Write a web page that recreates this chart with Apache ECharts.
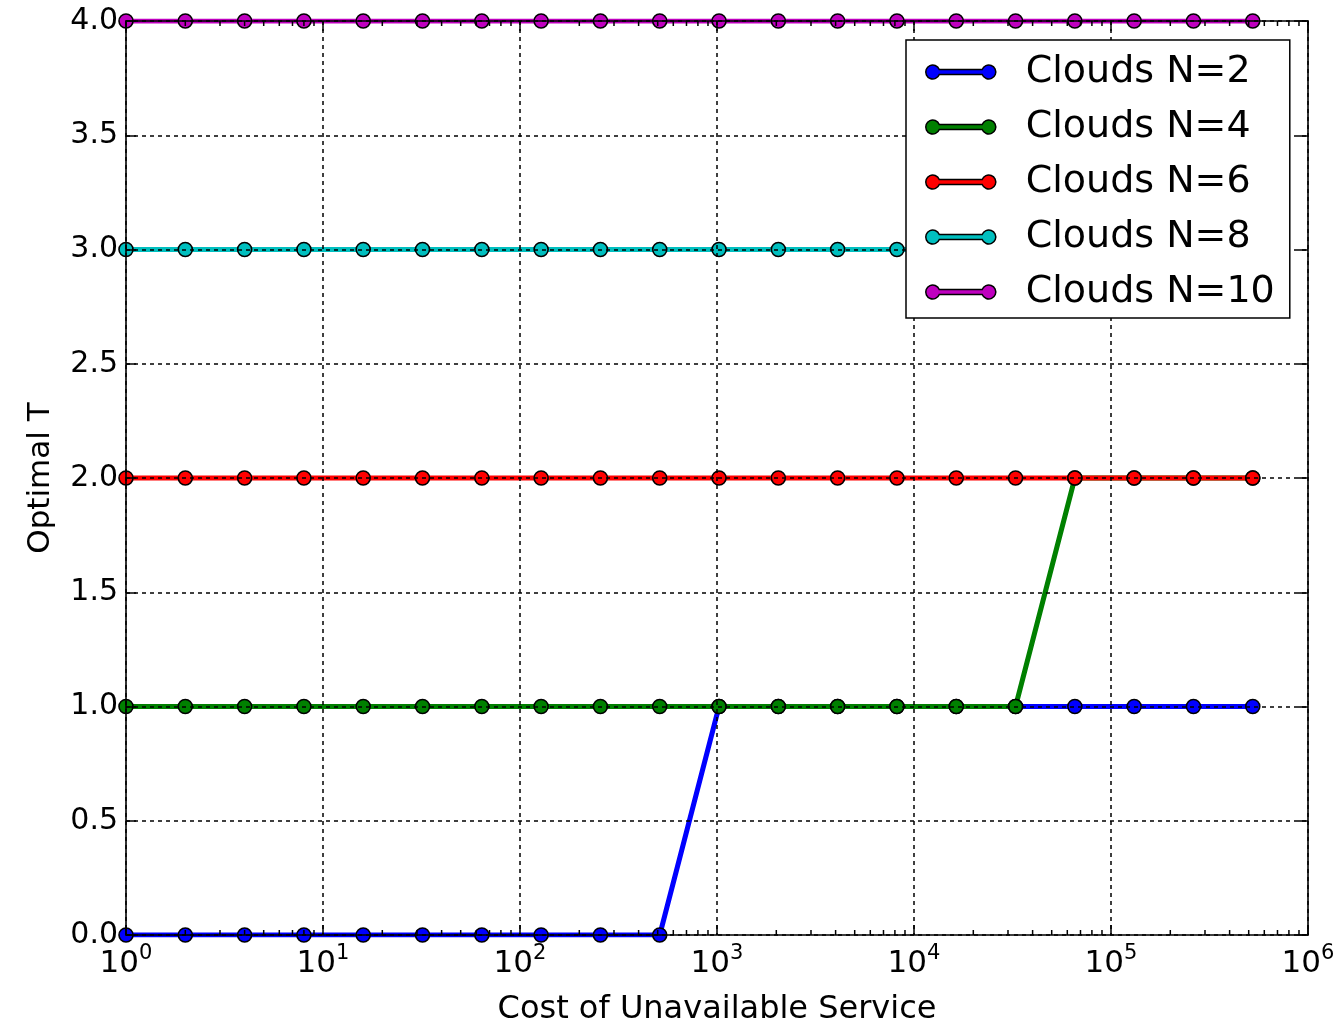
<!DOCTYPE html>
<html><head><meta charset="utf-8">
<script src="https://cdn.jsdelivr.net/npm/echarts@6/dist/echarts.min.js"></script>
<style>html,body{margin:0;padding:0;background:#fff}#c{width:1336px;height:1026px}</style>
</head><body><div id="c"></div>
<script>
// Cost of unavailable service (x), powers of two
const costs = [1,2,4,8,16,32,64,128,256,512,1024,2048,4096,8192,16384,32768,65536,131072,262144,524288];
const seriesNames = ['Clouds N=2','Clouds N=4','Clouds N=6','Clouds N=8','Clouds N=10'];
const tN2  = [0,0,0,0,0,0,0,0,0,0,1,1,1,1,1,1,1,1,1,1];
const tN4  = [1,1,1,1,1,1,1,1,1,1,1,1,1,1,1,1,2,2,2,2];
const tN6  = [2,2,2,2,2,2,2,2,2,2,2,2,2,2,2,2,2,2,2,2];
const tN8  = [3,3,3,3,3,3,3,3,3,3,3,3,3,3,3,3,3,3,3,3];
const tN10 = [4,4,4,4,4,4,4,4,4,4,4,4,4,4,4,4,4,4,4,4];
const seriesValues = [tN2, tN4, tN6, tN8, tN10];
const colors = ['#0000ff','#008000','#ff0000','#00bfbf','#bf00bf'];
const yTickLabels = ['0.0','0.5','1.0','1.5','2.0','2.5','3.0','3.5','4.0'];
const xDecades = [1,10,100,1000,10000,100000,1000000];
const minorMultipliers = [2,3,4,5,6,7,8,9];

const FONT = 'DejaVu Sans';
const minorTicks = [];
xDecades.slice(0, -1).forEach(d => minorMultipliers.forEach(m => minorTicks.push([m * d, 0])));

const chart = echarts.init(document.getElementById('c'), null, {renderer: 'canvas'});

const gridLine = {show: true, lineStyle: {color: '#000', type: [4, 4], width: 1.5}};
const axisLineStyle = {show: true, onZero: false, lineStyle: {color: '#000', width: 1.6}};
const tickStyle = {show: true, inside: true, length: 10, lineStyle: {color: '#000', width: 1.5}};

const lineSeries = seriesNames.map((name, i) => ({
  name: name,
  type: 'line',
  data: costs.map((c, j) => [c, seriesValues[i][j]]),
  color: colors[i],
  symbol: 'circle',
  symbolSize: 14,
  showAllSymbol: true,
  lineStyle: {width: 5, color: colors[i]},
  itemStyle: {color: colors[i], borderColor: '#000', borderWidth: 1.6},
  clip: true,
  z: 2,
  animation: false
}));

const option = {
  animation: false,
  backgroundColor: '#fff',
  grid: {left: 126, right: 28, top: 21, bottom: 91, containLabel: false, outerBoundsMode: 'none'},
  legend: {
    data: seriesNames,
    orient: 'vertical',
    left: 906, top: 40,
    padding: [11, 15, 5, 19],
    itemGap: 13,
    itemWidth: 70, itemHeight: 14,
    icon: 'path://M13.54,4.5 L56.46,4.5 A7,7 0 1,1 56.46,9.5 L13.54,9.5 A7,7 0 1,1 13.54,4.5 Z',
    itemStyle: {borderColor: '#000', borderWidth: 1.5},
    textStyle: {fontFamily: FONT, fontSize: 38, color: '#000', lineHeight: 42, padding: [0, 0, 0, 25]},
    borderColor: '#000', borderWidth: 1.5, borderRadius: 0,
    backgroundColor: '#fff',
    z: 10
  },
  xAxis: [{
    type: 'log', logBase: 10, min: xDecades[0], max: xDecades[xDecades.length - 1], splitNumber: 6,
    position: 'bottom',
    axisLine: axisLineStyle, axisTick: tickStyle, splitLine: gridLine,
    axisLabel: {
      margin: 8,
      formatter: v => '{b|10}{s|' + Math.round(Math.log10(v)) + '}',
      rich: {
        b: {fontFamily: FONT, fontSize: 31, color: '#000', lineHeight: 36, verticalAlign: 'bottom'},
        s: {fontFamily: FONT, fontSize: 21, color: '#000', lineHeight: 22, verticalAlign: 'top'}
      }
    },
    name: 'Cost of Unavailable Service', nameLocation: 'middle', nameGap: 59,
    nameTextStyle: {fontFamily: FONT, fontSize: 32, lineHeight: 32, color: '#000', verticalAlign: 'top'},
    z: 5
  }, {
    type: 'log', logBase: 10, min: xDecades[0], max: xDecades[xDecades.length - 1], splitNumber: 6,
    position: 'top',
    axisLine: axisLineStyle, axisTick: tickStyle, splitLine: {show: false}, axisLabel: {show: false},
    z: 5
  }],
  yAxis: [{
    type: 'value', min: 0, max: 4, interval: 0.5, position: 'left',
    axisLine: axisLineStyle, axisTick: tickStyle, splitLine: gridLine,
    axisLabel: {margin: 8, fontFamily: FONT, fontSize: 30, color: '#000',
      formatter: v => yTickLabels[Math.round(v / 0.5)]},
    name: 'Optimal T', nameLocation: 'middle', nameGap: 70,
    nameTextStyle: {fontFamily: FONT, fontSize: 31, color: '#000'},
    z: 5
  }, {
    type: 'value', min: 0, max: 4, interval: 0.5, position: 'right',
    axisLine: axisLineStyle, axisTick: tickStyle, splitLine: {show: false}, axisLabel: {show: false},
    z: 5
  }],
  series: lineSeries.concat([{
    type: 'custom',
    name: 'minorTicks',
    silent: true,
    clip: false,
    z: 5,
    data: minorTicks,
    renderItem: (params, api) => {
      const v = api.value(0);
      const b = api.coord([v, 0]);
      const t = api.coord([v, 4]);
      const st = {stroke: '#000', lineWidth: 1.5};
      return {type: 'group', children: [
        {type: 'line', shape: {x1: b[0], y1: b[1], x2: b[0], y2: b[1] - 5}, style: st},
        {type: 'line', shape: {x1: t[0], y1: t[1], x2: t[0], y2: t[1] + 5}, style: st}
      ]};
    }
  }])
};
chart.setOption(option);
</script>
</body></html>
